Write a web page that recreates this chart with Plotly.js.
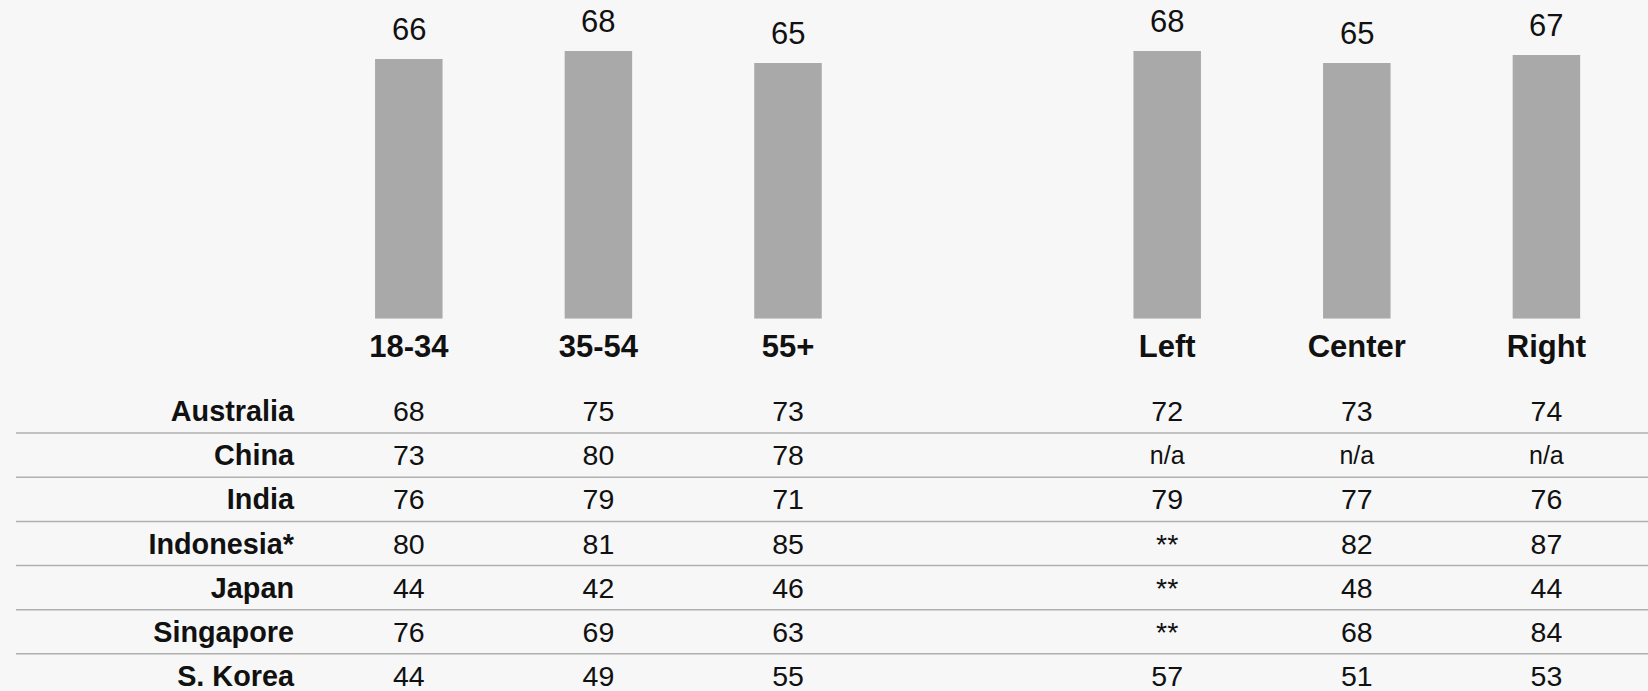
<!DOCTYPE html>
<html>
<head>
<meta charset="utf-8">
<script src="https://cdn.plot.ly/plotly-3.0.1.min.js"></script>
<style>
  html, body { margin: 0; padding: 0; background: #f7f7f7; }
  #chart { width: 1648px; height: 691px; }
</style>
</head>
<body>
<div id="chart"></div>
<script>
// ---- Data ----
const ageGroups = ['18-34', '35-54', '55+'];
const ageValues = [66, 68, 65];
const ideologyGroups = ['Left', 'Center', 'Right'];
const ideologyValues = [68, 65, 67];

const countries = ['Australia', 'China', 'India', 'Indonesia*', 'Japan', 'Singapore', 'S. Korea'];
const col1834 = ['68', '73', '76', '80', '44', '76', '44'];
const col3554 = ['75', '80', '79', '81', '42', '69', '49'];
const col55plus = ['73', '78', '71', '85', '46', '63', '55'];
const colLeft = ['72', 'n/a', '79', '**', '**', '**', '57'];
const colCenter = ['73', 'n/a', '77', '82', '48', '68', '51'];
const colRight = ['74', 'n/a', '76', '87', '44', '84', '53'];

// ---- Layout helpers ----
const W = 1648, H = 691;
const FONT = 'Arial, "Liberation Sans", Helvetica, sans-serif';
const categories = ageGroups.concat(ideologyGroups);
const values = ageValues.concat(ideologyValues);
// one empty slot between the two groups
const xpos = categories.map((c, i) => i < ageGroups.length ? i : i + 1);
const columns = [col1834, col3554, col55plus, colLeft, colCenter, colRight];

const slotPx = 189.6, firstPx = 408.8;
const xr0 = -firstPx / slotPx;
const xr1 = xr0 + W / slotPx;

const zeroPx = 318.7, unitPx = 3.935;
const rowPx0 = 414, rowStep = 44.15;
const lineShift = -3 / rowStep;
const labelX = (294 - firstPx) / slotPx;

const traces = [];
traces.push({
  type: 'bar',
  x: xpos,
  y: values,
  width: 67.5 / slotPx,
  marker: { color: '#a9a9a9' },
  hoverinfo: 'skip',
  xaxis: 'x', yaxis: 'y'
});

columns.forEach((col, j) => {
  traces.push({
    type: 'scatter',
    mode: 'text',
    x: col.map(() => xpos[j]),
    y: countries,
    text: col,
    textposition: 'middle center',
    textfont: { family: FONT, color: '#111111', size: col.map(v => v === 'n/a' ? 25 : 28.5) },
    hoverinfo: 'skip',
    cliponaxis: false,
    xaxis: 'x', yaxis: 'y2'
  });
});

traces.push({
  type: 'scatter',
  mode: 'text',
  x: countries.map(() => labelX),
  y: countries,
  text: countries,
  textposition: 'middle left',
  textfont: { family: FONT, color: '#111111', size: 28.8, weight: 'bold' },
  hoverinfo: 'skip',
  cliponaxis: false,
  xaxis: 'x', yaxis: 'y2'
});

const annotations = values.map((v, i) => ({
  x: xpos[i], y: v, xref: 'x', yref: 'y',
  text: String(v), showarrow: false,
  xanchor: 'center', yanchor: 'bottom', yshift: 10,
  font: { family: FONT, size: 31, color: '#111111' }
}));

const shapes = countries.slice(0, -1).map((c, i) => ({
  type: 'line', xref: 'paper', yref: 'y2',
  x0: 16 / W, x1: 1, y0: i + 0.5 + lineShift, y1: i + 0.5 + lineShift,
  line: { color: '#b0b0b0', width: 1.5 }
}));

const layout = {
  width: W, height: H,
  margin: { l: 0, r: 0, t: 0, b: 0, pad: 0 },
  paper_bgcolor: '#f7f7f7',
  plot_bgcolor: 'rgba(0,0,0,0)',
  showlegend: false,
  xaxis: {
    range: [xr0, xr1],
    tickvals: xpos, ticktext: categories,
    tickfont: { family: FONT, size: 31, color: '#111111', weight: 'bold' },
    ticks: '', showgrid: false, zeroline: false, showline: false,
    ticklabelstandoff: 6,
    anchor: 'y', fixedrange: true
  },
  yaxis: {
    domain: [1 - zeroPx / H, 1],
    range: [0, zeroPx / unitPx],
    visible: false, showgrid: false, zeroline: false, fixedrange: true
  },
  yaxis2: {
    type: 'category',
    categoryarray: countries, categoryorder: 'array',
    domain: [0, 1],
    range: [(H - rowPx0) / rowStep, -rowPx0 / rowStep],
    visible: false, showgrid: false, zeroline: false, fixedrange: true,
    anchor: 'x'
  },
  annotations: annotations,
  shapes: shapes,
  font: { family: FONT }
};

Plotly.newPlot('chart', traces, layout, { displayModeBar: false, staticPlot: true });
</script>
</body>
</html>
